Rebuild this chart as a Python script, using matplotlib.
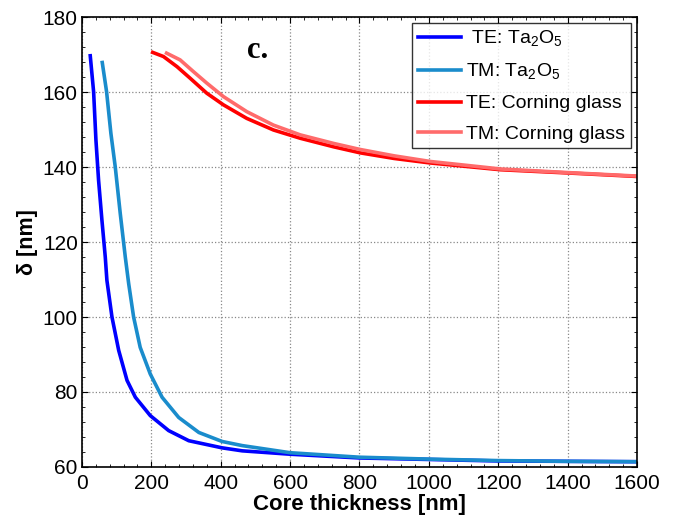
import matplotlib

matplotlib.use("Agg")
import matplotlib.pyplot as plt
from matplotlib.ticker import MultipleLocator

plt.rcParams["font.family"] = ["Liberation Sans", "DejaVu Sans"]

# TE: Ta2O5
te_ta_x = [24, 33.7, 40.4, 48, 57.7, 67.3, 72, 86.6, 106, 130, 154, 197, 250, 308, 404, 462,
           600, 800, 1000, 1200, 1400, 1600]
te_ta_y = [169.7, 160.1, 147.2, 136.5, 125.8, 116.0, 109.8, 100.0, 91.1, 83.1, 78.6, 73.7, 69.7,
           67.0, 65.1, 64.3, 63.4, 62.4, 62.0, 61.6, 61.5, 61.4]
# TM: Ta2O5
tm_ta_x = [58.6, 71.1, 83.5, 96, 110.5, 125, 134.8, 149, 168, 197, 231, 279, 337, 404, 462,
           600, 800, 1000, 1200, 1400, 1600]
tm_ta_y = [167.9, 160.1, 149.0, 140.1, 127.6, 116.0, 108.9, 100.0, 91.9, 84.8, 78.6, 73.2, 69.2,
           66.8, 65.7, 63.8, 62.6, 62.1, 61.7, 61.5, 61.4]
# TE: Corning glass
te_cg_x = [204, 235, 274, 312, 360, 408, 475, 552, 629, 726, 802, 900, 1004, 1206, 1408, 1600]
te_cg_y = [170.6, 169.5, 166.8, 163.7, 159.7, 156.6, 153.0, 149.9, 147.7, 145.4, 143.8, 142.3,
           141.1, 139.3, 138.4, 137.5]
# TM: Corning glass
tm_cg_x = [244, 283, 321, 360, 408, 475, 552, 629, 726, 802, 900, 1004, 1206, 1408, 1600]
tm_cg_y = [170.4, 168.6, 165.5, 162.4, 158.8, 154.8, 151.2, 148.6, 146.3, 144.7, 143.0, 141.5,
           139.5, 138.5, 137.6]

fig = plt.figure(figsize=(6.77, 5.2), dpi=100)
ax = fig.add_axes([0.121, 0.102, 0.82, 0.865])

ax.plot(te_ta_x, te_ta_y, color="#0000ff", lw=2.6, label=" TE: Ta$_\\mathregular{2}$O$_\\mathregular{5}$")
ax.plot(tm_ta_x, tm_ta_y, color="#1a8ccc", lw=2.6, label="TM: Ta$_\\mathregular{2}$O$_\\mathregular{5}$")
ax.plot(te_cg_x, te_cg_y, color="#ff0000", lw=2.6, label="TE: Corning glass")
ax.plot(tm_cg_x, tm_cg_y, color="#ff6b6b", lw=2.6, label="TM: Corning glass")

ax.set_xlim(0, 1600)
ax.set_ylim(60, 180)
ax.xaxis.set_major_locator(MultipleLocator(200))
ax.xaxis.set_minor_locator(MultipleLocator(40))
ax.yaxis.set_major_locator(MultipleLocator(20))
ax.yaxis.set_minor_locator(MultipleLocator(4))
ax.tick_params(which="both", direction="in", top=True, right=True, labelsize=15)
ax.tick_params(which="major", length=4, width=0.8)
ax.tick_params(axis="x", which="major", pad=5)
ax.tick_params(axis="y", which="major", pad=3)
ax.tick_params(which="minor", length=2.5, width=0.6)
ax.grid(True, which="major", color="#888888", linestyle=":", linewidth=0.9)
for s in ax.spines.values():
    s.set_linewidth(1.2)

ax.set_xlabel("Core thickness [nm]", fontsize=16, fontweight="bold", labelpad=1)
ax.set_ylabel("δ [nm]", fontsize=15.5, fontweight="bold", labelpad=3)

ax.text(505, 171, "c.", family="Liberation Serif", fontweight="bold", fontsize=22,
        ha="center", va="center")

leg = ax.legend(loc="upper right", fontsize=14, frameon=True, fancybox=False,
                edgecolor="black", borderaxespad=0.3, handlelength=2.2,
                handletextpad=0.3, labelspacing=0.65, borderpad=0.3)
leg.get_frame().set_linewidth(1.0)

fig.savefig("out.png", dpi=100)
